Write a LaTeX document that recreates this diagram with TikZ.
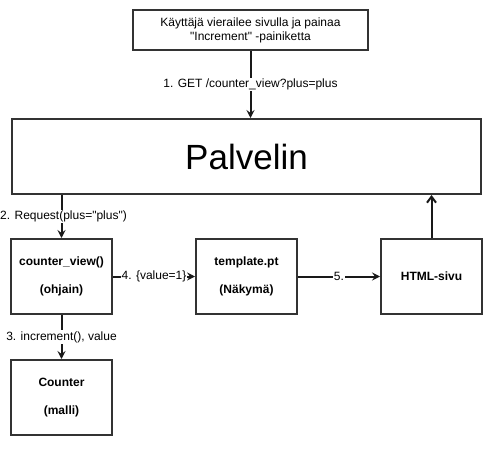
\documentclass[tikz,border=0pt]{standalone}
\usepackage{fontspec}
\setmainfont{Liberation Sans}
\newfontfamily\arialfont{Liberation Sans}
\usetikzlibrary{arrows.meta,positioning,calc}

\begin{document}
\begin{tikzpicture}[x=1pt,y=-1pt,
  box/.style={rectangle,draw=black!80,line width=2pt,fill=white,align=center,font=\arialfont\fontsize{12}{14}\selectfont},
  part/.style={box,minimum width=101pt,minimum height=75pt,font=\arialfont\fontsize{12}{14}\selectfont\bfseries},
  arr/.style={draw=black!90,line width=2pt,-{Stealth[length=8pt,width=8pt,inset=3pt]}},
  lbl/.style={fill=white,inner sep=1pt,font=\arialfont\fontsize{12}{14}\selectfont}]
\useasboundingbox (0,0) rectangle (501,455);

% user action and server
\node[box,minimum width=235pt, minimum height=40pt, name=user] at (250.5,30) {Käyttäjä vierailee sivulla ja painaa\\"Increment" -painiketta};
\node[box,minimum width=469pt, minimum height=75pt, font=\arialfont\fontsize{35}{40}\selectfont, name=server] at (246.5,156.5) {Palvelin};

% components
\node[part, name=ctrl] at (61.5,276.5) {counter\_view()\\[14pt](ohjain)};
\node[part, name=view] at (246.5,276.5) {template.pt\\[14pt](Näkymä)};
\node[part, name=page] at (431.5,276.5) {HTML-sivu};
\node[part, name=model] at (61.5,397.5) {Counter\\[14pt](malli)};

% arrows
\draw[arr] (user.south) -- node[lbl] {1. GET /counter\_view?plus=plus} (user.south |- server.north);
\draw[arr] (server.south -| ctrl) -- node[lbl,xshift=2pt] {2. Request(plus="plus")} (ctrl.north);
\draw[arr] (ctrl.south) -- node[lbl] {3. increment(), value} (model.north);
\draw[arr] (ctrl.east) -- node[lbl] {4. \{value=1\}} (view.west);
\draw[arr] (view.east) -- node[lbl] {5.} (page.west);
\draw[draw=black!90,line width=2pt,-{Straight Barb[length=6pt,width=9pt]}] (page.north) -- (page |- server.south);
\end{tikzpicture}
\end{document}
